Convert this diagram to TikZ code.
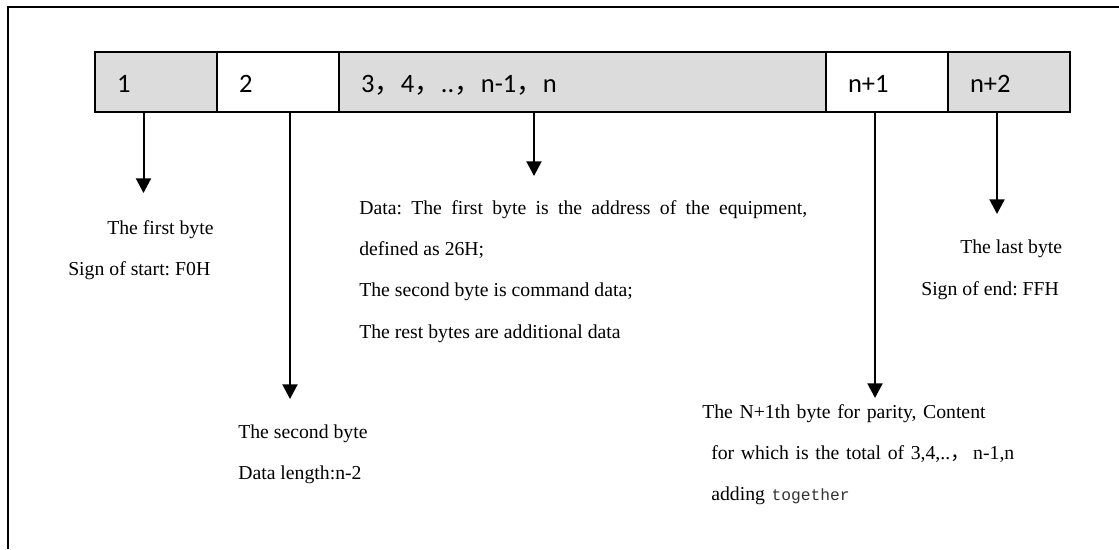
\documentclass[tikz,border=0pt]{standalone}
\usepackage{fontspec}
\setmainfont{Liberation Serif}
\newfontfamily\cellfont{Carlito}
\newfontfamily\cjk{Noto Sans CJK SC}
\newfontfamily\codefont{Liberation Mono}
\usetikzlibrary{arrows.meta,positioning}
\definecolor{cellgray}{RGB}{220,220,220}
\frenchspacing
\tikzset{
  cell/.style={draw, line width=1.3pt, outer sep=0pt, minimum height=45pt, inner xsep=16.5pt, inner ysep=0pt,
    align=left, text height=16.5pt, text depth=0pt, font=\cellfont\fontsize{19.9}{24}\selectfont},
  note/.style={anchor=base west, inner sep=0pt, font=\fontsize{14.8}{31}\selectfont},
  pointer/.style={line width=1.5pt, -{Triangle[width=11.25pt,length=11pt]}},
  frame/.style={line width=1.5pt}
}

\begin{document}
\begin{tikzpicture}[x=0.75pt,y=-0.75pt]

\useasboundingbox (0,0) rectangle (1119,549);
\draw[frame] (8,549) -- (8,7) -- (1119,7);

% frame bytes
\node[cell, fill=cellgray, anchor=west, text width=58.5pt] (b1) at (95,82) {1};
\node[cell, right=0pt of b1, text width=58.5pt] (b2) {2};
\node[cell, fill=cellgray, right=0pt of b2, text width=332.25pt] (b3) {3{\cjk ，}4{\cjk ，}..{\cjk ，}n-1{\cjk ，}n};
\node[cell, right=0pt of b3, text width=58.5pt] (b4) {n+1};
\node[cell, fill=cellgray, right=0pt of b4, text width=58.5pt] (b5) {n+2};

% pointers
\coordinate (p1) at (143.5,193);
\coordinate (p2) at (290,399);
\coordinate (p3) at (534,176);
\coordinate (p4) at (875,398);
\coordinate (p5) at (997,214);
\draw[pointer] (p1 |- b1.south) -- (p1);
\draw[pointer] (p2 |- b2.south) -- (p2);
\draw[pointer] (p3 |- b3.south) -- (p3);
\draw[pointer] (p4 |- b4.south) -- (p4);
\draw[pointer] (p5 |- b5.south) -- (p5);

% notes
\node[note] (first) at (107,234) {The first byte};
\node[note] (start) at (68,275) {Sign of start: F0H};
\node[note] (second) at (238,438) {The second byte};
\node[note] (len) at (238,479) {Data length:n-2};
\node[note, text width=336pt, align=justify] (data) at (359,214)
  {Data: The first byte is the address of the equipment,\linebreak defined as 26H;\\
   The second byte is command data;\\ The rest bytes are additional data};
\node[note, text width=300pt, align=left] (sum) at (702,418)
  {The N+1th byte for parity, Content\\
   \hspace*{6.75pt}for which is the total of 3,4,..{\cjk ，}\,n-1,n\\
   \hspace*{6.75pt}adding {\codefont\fontsize{12.2}{14}\selectfont\color{black!80}together}};
\node[note] (last) at (960,253) {The last byte};
\node[note] (end) at (921,295) {Sign of end: FFH};

\end{tikzpicture}
\end{document}
